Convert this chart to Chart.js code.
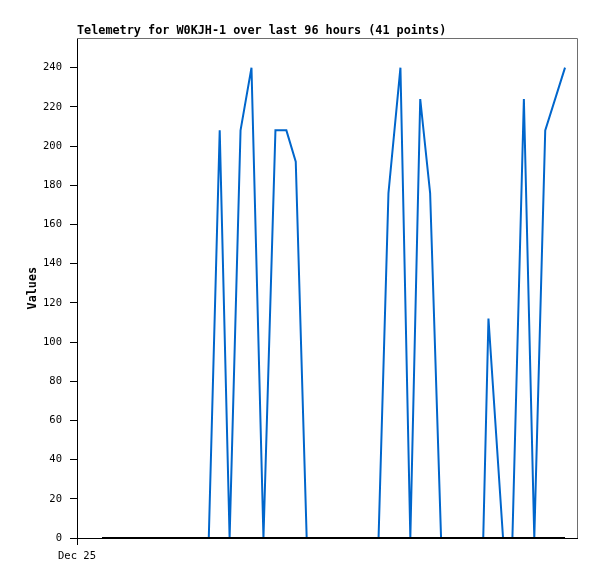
<!DOCTYPE html>
<html>
<head>
<meta charset="utf-8">
<script src="https://cdn.jsdelivr.net/npm/chart.js@4.4.1/dist/chart.umd.min.js"></script>
<style>
  html, body { margin: 0; padding: 0; background: #ffffff; }
  #wrap { width: 597px; height: 579px; }
</style>
</head>
<body>
<div id="wrap"><canvas id="c" width="597" height="579"></canvas></div>
<script>
// Hours after Dec 25 00:00 for each of the 41 telemetry points
const hours = [4.8, 7.1, 9.4, 11.6, 13.9, 16.2, 18.5, 20.7, 23.0, 25.3,
               27.4, 29.3, 31.4, 33.5, 35.8, 38.1, 40.2, 42.0, 44.1, 46.4,
               48.7, 51.0, 53.3, 55.6, 57.9, 59.8, 62.1, 64.0, 65.9, 67.8,
               69.9, 72.6, 75.3, 78.0, 79.0, 81.8, 83.6, 85.8, 87.8, 89.9, 93.7];
const seriesA = [0, 0, 0, 0, 0, 0, 0, 0, 0, 0,
                 208, 0, 208, 240, 0, 208, 208, 192, 0, 0,
                 0, 0, 0, 0, 0, 176, 240, 0, 224, 176,
                 0, 0, 0, 0, 112, 0, 0, 224, 0, 208, 240];
const seriesB = [0, 0, 0, 0, 0, 0, 0, 0, 0, 0,
                 0, 0, 0, 0, 0, 0, 0, 0, 0, 0,
                 0, 0, 0, 0, 0, 0, 0, 0, 0, 0,
                 0, 0, 0, 0, 0, 0, 0, 0, 0, 0, 0];
const yTicks = [0, 20, 40, 60, 80, 100, 120, 140, 160, 180, 200, 220, 240];
const xTicks = [0];
const xTickLabels = ['Dec 25'];
const titleText = 'Telemetry for W0KJH-1 over last 96 hours (41 points)';
const yTitle = 'Values';

const FONT = '"DejaVu Sans Mono", "Liberation Mono", monospace';

const frame = {
  id: 'frame',
  afterDatasetsDraw(chart) {
    const { ctx, chartArea: a } = chart;
    ctx.save();
    ctx.strokeStyle = '#6e6e6e';
    ctx.lineWidth = 1;
    ctx.beginPath();
    ctx.moveTo(a.left, Math.round(a.top) + 0.5);
    ctx.lineTo(Math.round(a.right) + 0.5, Math.round(a.top) + 0.5);
    ctx.lineTo(Math.round(a.right) + 0.5, a.bottom);
    ctx.stroke();
    ctx.restore();
  }
};

new Chart(document.getElementById('c'), {
  type: 'line',
  data: {
    datasets: [
      {
        label: 'B',
        data: hours.map((h, i) => ({ x: h, y: seriesB[i] })),
        borderColor: '#000000',
        borderWidth: 2,
        pointRadius: 0,
        tension: 0,
        order: 0
      },
      {
        label: 'A',
        data: hours.map((h, i) => ({ x: h, y: seriesA[i] })),
        borderColor: '#0066cc',
        borderWidth: 2,
        pointRadius: 0,
        tension: 0,
        order: 1
      }
    ]
  },
  options: {
    responsive: false,
    animation: false,
    devicePixelRatio: 1,
    layout: { padding: { left: 0, right: 20, top: 0, bottom: 0 } },
    plugins: {
      legend: { display: false },
      tooltip: { enabled: false },
      title: {
        display: true,
        text: titleText,
        align: 'start',
        fullSize: false,
        color: '#000000',
        font: { family: FONT, size: 11.8, weight: 'bold', lineHeight: 1.2 },
        padding: { top: 24, bottom: 0.1 }
      }
    },
    scales: {
      x: {
        type: 'linear',
        min: 0,
        max: 96,
        afterBuildTicks: s => { s.ticks = xTicks.map(v => ({ value: v })); },
        afterFit: s => { s.height = 41; },
        ticks: {
          color: '#000000',
          font: { family: FONT, size: 10.5 },
          padding: 5,
          maxRotation: 0,
          callback: (v) => { const i = xTicks.indexOf(v); return i >= 0 ? xTickLabels[i] : ''; }
        },
        grid: { drawOnChartArea: false, drawTicks: true, tickLength: 7, color: '#000000' },
        border: { display: true, color: '#000000', width: 1 }
      },
      y: {
        type: 'linear',
        min: 0,
        max: 255,
        afterBuildTicks: s => { s.ticks = yTicks.map(v => ({ value: v })); },
        afterFit: s => { s.width = 77; },
        ticks: {
          color: '#000000',
          font: { family: FONT, size: 10.5 },
          padding: 8
        },
        grid: { drawOnChartArea: false, drawTicks: true, tickLength: 7, color: '#000000' },
        border: { display: true, color: '#000000', width: 1 },
        title: {
          display: true,
          text: yTitle,
          color: '#000000',
          font: { family: FONT, size: 11.8, weight: 'bold', lineHeight: 1.2 },
          padding: { top: 26, bottom: 0 }
        }
      }
    }
  },
  plugins: [frame]
});
</script>
</body>
</html>
